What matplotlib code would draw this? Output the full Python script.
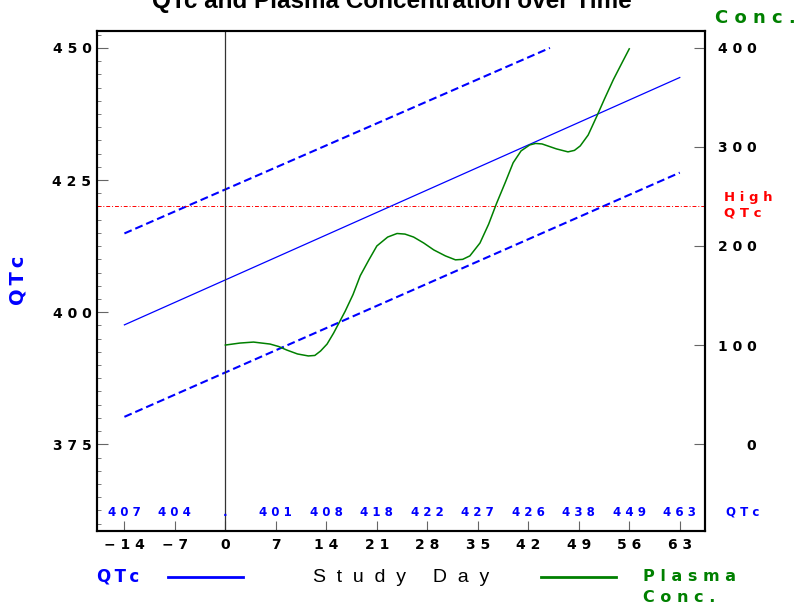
import numpy as np
import matplotlib
matplotlib.use("Agg")
import matplotlib.pyplot as plt
from matplotlib.ticker import MultipleLocator
import matplotlib.transforms as mtransforms

# ---- data ----
tick_days = [-14, -7, 0, 7, 14, 21, 28, 35, 42, 49, 56, 63]
qtc_row = ['407', '404', '.', '401', '408', '418', '422', '427', '426', '438', '449', '463']

fit_days = [-14, 63]
fit_qtc = [397.6, 444.4]
upper_days = [-14, 45]
upper_qtc = [414.9, 450.0]
lower_days = [-14, 63]
lower_qtc = [380.2, 426.4]
high_qtc = 420

conc_days = [0, 2, 3.9, 6.2, 7.4, 8.5, 10, 11.5, 12.4, 13.2, 14.1, 15.0, 16.6,
             17.7, 18.7, 19.9, 21.0, 22.5, 23.8, 24.9, 26.1, 27.5, 28.9, 30.5,
             31.9, 32.9, 33.9, 35.3, 36.5, 37.6, 38.8, 39.9, 41.0, 42.2, 43.0,
             43.9, 45.9, 47.5, 48.4, 49.2, 50.3, 51.5, 52.6, 53.8, 55.0, 56.0]
conc_vals = [100, 102, 103, 101, 98.5, 95, 91, 89, 89.5, 94, 101, 112, 134,
             151, 170, 186, 200, 209, 212.6, 212, 209, 203, 196, 190,
             186, 186.5, 190, 203, 222, 243, 264, 284, 296, 302, 303.5,
             303, 298, 295, 296.5, 301, 312, 331, 349, 368, 385, 399]


def spaced(s, sep=' '):
    return sep.join(s)


BLUE = '#0000ff'
GREEN = '#008000'
FONT = 'DejaVu Sans'

fig = plt.figure(figsize=(8.04, 6.10), dpi=100)
ax = fig.add_axes([97 / 804, 1 - 531 / 610, 608 / 804, 500 / 610])
ax2 = ax.twinx()

# QTc regression and bands
ax.plot(fit_days, fit_qtc, color=BLUE, lw=0.9)
ax.plot(upper_days, upper_qtc, color=BLUE, lw=1.5, linestyle=(0, (3.8, 1.9)))
ax.plot(lower_days, lower_qtc, color=BLUE, lw=1.5, linestyle=(0, (3.8, 1.9)))
ax.axhline(high_qtc, color='red', lw=0.7, linestyle=(0, (4, 2, 1, 2)))
ax.axvline(0, color='#333333', lw=0.9)

# plasma concentration
ax2.plot(conc_days, conc_vals, color=GREEN, lw=1.1)

ax.set_xlim(-17.8, 66.5)
ax.set_ylim(358.6, 453.2)
ax2.set_ylim(-87.7, 417)

ax.set_xticks(tick_days)
ax.set_xticklabels([spaced(str(d).replace('-', '\u2212')) for d in tick_days],
                   fontsize=10, fontweight='bold', family=FONT)
ax.set_yticks([375, 400, 425, 450])
ax.set_yticklabels([spaced(str(v)) for v in [375, 400, 425, 450]],
                   fontsize=10, fontweight='bold', family=FONT)
ax.yaxis.set_minor_locator(MultipleLocator(2.5))
ax.tick_params(axis='x', direction='in', length=7, color='#666666', pad=5)
ax.tick_params(axis='y', which='major', direction='in', length=8, color='#666666', pad=4)
ax.tick_params(axis='y', which='minor', direction='in', length=3, color='#666666')

ax2.set_yticks([0, 100, 200, 300, 400])
ax2.set_yticklabels([spaced(str(v)) for v in [0, 100, 200, 300, 400]],
                    fontsize=10, fontweight='bold', family=FONT)
ax2.tick_params(axis='y', direction='in', length=8, color='#666666', pad=37)
for lab in ax2.get_yticklabels():
    lab.set_horizontalalignment('right')

for a in (ax, ax2):
    for sp in a.spines.values():
        sp.set_linewidth(1.5)

# QTc values row along the bottom
trans = mtransforms.blended_transform_factory(ax.transData, ax.transAxes)
for d, q in zip(tick_days, qtc_row):
    ax.text(d, 0.03, spaced(q), transform=trans, ha='center', va='baseline',
            color=BLUE, fontsize=8.5, fontweight='bold', family=FONT)
fig.text(743 / 804, 1 - 512 / 610, spaced('QTc'), ha='center', va='center',
         color=BLUE, fontsize=8.5, fontweight='bold', family=FONT)

# side labels
fig.text(18 / 804, 1 - 280 / 610, spaced('QTc', '\u2009'), rotation=90,
         ha='center', va='center', color=BLUE, fontsize=14, fontweight='bold', family=FONT)
fig.text(755 / 804, 1 - 18 / 610, spaced('Conc.'), ha='center', va='center',
         color=GREEN, fontsize=13, fontweight='bold', family=FONT)
fig.text(724 / 804, 1 - 205 / 610, spaced('High') + '\n' + spaced('QTc'),
         ha='left', va='center', color='red', fontsize=9.5, fontweight='bold',
         family=FONT, linespacing=1.25)

# title (cut off by the top edge, as in the reference)
fig.text(392 / 804, 1 - 8 / 610, 'QTc and Plasma Concentration over Time',
         ha='center', va='baseline', fontsize=17.5, fontweight='bold', family='Liberation Sans')

# bottom legend / x label
fig.text(118 / 804, 1 - 577 / 610, spaced('QTc', '\u2009'), ha='center', va='center',
         color=BLUE, fontsize=12, fontweight='bold', family=FONT)
fig.add_artist(plt.Line2D([168 / 804, 243 / 804], [1 - 577 / 610] * 2, color=BLUE, lw=2))
fig.text(401 / 804, 1 - 578 / 610, '  '.join('Study') + '     ' + '  '.join('Day'),
         ha='center', va='center', fontsize=14, family='Liberation Sans')
fig.add_artist(plt.Line2D([541 / 804, 616 / 804], [1 - 577 / 610] * 2, color=GREEN, lw=2))
fig.text(643 / 804, 1 - 587 / 610, spaced('Plasma') + '\n' + spaced('Conc.'),
         ha='left', va='center', color=GREEN, fontsize=11.5, fontweight='bold',
         family=FONT, linespacing=1.45)

fig.savefig('out.png', dpi=100)
